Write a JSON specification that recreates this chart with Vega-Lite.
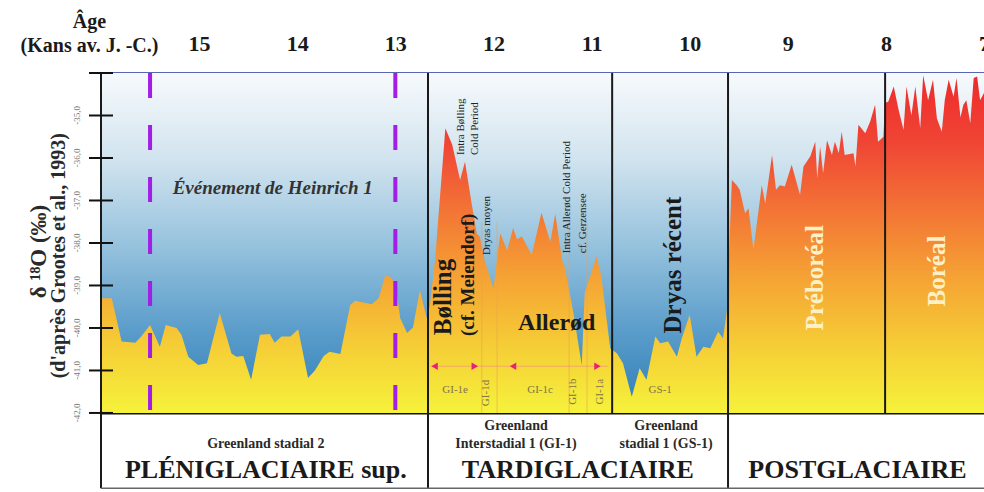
{
  "$schema": "https://vega.github.io/schema/vega-lite/v6.json",
  "width": 883,
  "height": 419,
  "autosize": "none",
  "padding": {"left": 101, "top": 73, "right": 0, "bottom": 0},
  "background": "white",
  "config": {"view": {"stroke": null}, "font": "Liberation Serif"},
  "resolve": {"axis": {"x": "independent"}},
  "datasets": {
    "curve": [
      {"age":16.0,"v":-39.3},{"age":15.89,"v":-39.3},{"age":15.79,"v":-40.32},{"age":15.65,"v":-40.35},{"age":15.59,"v":-40.2},{"age":15.5,"v":-39.93},{"age":15.4,"v":-40.44},{"age":15.34,"v":-39.93},{"age":15.23,"v":-40.0},{"age":15.18,"v":-40.16},{"age":15.11,"v":-40.68},{"age":15.01,"v":-40.87},{"age":14.92,"v":-40.83},{"age":14.79,"v":-39.65},{"age":14.67,"v":-40.6},{"age":14.62,"v":-40.68},{"age":14.55,"v":-40.66},{"age":14.47,"v":-41.22},{"age":14.38,"v":-40.16},{"age":14.28,"v":-40.14},{"age":14.23,"v":-40.35},{"age":14.16,"v":-40.2},{"age":14.07,"v":-40.2},{"age":13.99,"v":-40.03},{"age":13.89,"v":-41.18},{"age":13.82,"v":-41.0},{"age":13.73,"v":-40.66},{"age":13.67,"v":-40.56},{"age":13.56,"v":-40.61},{"age":13.46,"v":-39.46},{"age":13.41,"v":-39.36},{"age":13.24,"v":-39.44},{"age":13.17,"v":-39.3},{"age":13.1,"v":-38.74},{"age":13.04,"v":-38.83},{"age":13.0,"v":-38.93},{"age":12.95,"v":-39.77},{"age":12.88,"v":-40.12},{"age":12.82,"v":-39.99},{"age":12.75,"v":-39.1},{"age":12.68,"v":-39.77},{"age":12.65,"v":-39.5},{"age":12.595,"v":-38.4},{"age":12.49,"v":-35.3},{"age":12.42,"v":-35.69},{"age":12.34,"v":-36.52},{"age":12.29,"v":-36.09},{"age":12.22,"v":-37.1},{"age":12.17,"v":-37.78},{"age":12.14,"v":-37.85},{"age":12.09,"v":-38.4},{"age":12.0,"v":-39.07},{"age":11.93,"v":-37.77},{"age":11.86,"v":-38.18},{"age":11.8,"v":-37.65},{"age":11.76,"v":-37.91},{"age":11.71,"v":-37.85},{"age":11.61,"v":-38.28},{"age":11.51,"v":-37.29},{"age":11.42,"v":-37.97},{"age":11.37,"v":-37.32},{"age":11.3,"v":-38.4},{"age":11.27,"v":-38.6},{"age":11.185,"v":-39.65},{"age":11.1,"v":-40.87},{"age":11.07,"v":-39.18},{"age":10.95,"v":-38.32},{"age":10.9,"v":-38.79},{"age":10.81,"v":-40.48},{"age":10.74,"v":-40.6},{"age":10.68,"v":-40.83},{"age":10.59,"v":-41.62},{"age":10.51,"v":-40.95},{"age":10.44,"v":-41.22},{"age":10.35,"v":-40.2},{"age":10.3,"v":-40.36},{"age":10.22,"v":-40.32},{"age":10.13,"v":-40.68},{"age":10.08,"v":-40.24},{"age":10.0,"v":-39.69},{"age":9.93,"v":-40.68},{"age":9.86,"v":-40.44},{"age":9.79,"v":-40.48},{"age":9.71,"v":-40.09},{"age":9.66,"v":-40.24},{"age":9.62,"v":-39.58},{"age":9.57,"v":-36.52},{"age":9.52,"v":-36.64},{"age":9.49,"v":-36.75},{"age":9.435,"v":-37.3},{"age":9.4,"v":-37.18},{"age":9.35,"v":-38.16},{"age":9.265,"v":-36.64},{"age":9.23,"v":-37.07},{"age":9.16,"v":-35.93},{"age":9.12,"v":-36.75},{"age":9.08,"v":-36.64},{"age":9.03,"v":-36.67},{"age":8.96,"v":-36.16},{"age":8.875,"v":-36.87},{"age":8.84,"v":-36.2},{"age":8.77,"v":-35.96},{"age":8.72,"v":-35.62},{"age":8.7,"v":-36.48},{"age":8.67,"v":-35.73},{"age":8.64,"v":-36.36},{"age":8.6,"v":-35.58},{"age":8.55,"v":-35.93},{"age":8.52,"v":-35.62},{"age":8.48,"v":-35.89},{"age":8.45,"v":-35.38},{"age":8.42,"v":-35.93},{"age":8.33,"v":-35.89},{"age":8.31,"v":-36.2},{"age":8.28,"v":-35.22},{"age":8.21,"v":-35.42},{"age":8.16,"v":-35.14},{"age":8.11,"v":-34.75},{"age":8.08,"v":-35.62},{"age":8.025,"v":-35.5},{"age":8.01,"v":-34.71},{"age":7.975,"v":-34.67},{"age":7.92,"v":-34.32},{"age":7.87,"v":-34.87},{"age":7.82,"v":-35.34},{"age":7.79,"v":-34.32},{"age":7.74,"v":-35.0},{"age":7.7,"v":-34.32},{"age":7.65,"v":-35.3},{"age":7.62,"v":-34.05},{"age":7.57,"v":-34.64},{"age":7.52,"v":-34.16},{"age":7.48,"v":-35.07},{"age":7.43,"v":-35.38},{"age":7.4,"v":-34.64},{"age":7.36,"v":-34.16},{"age":7.31,"v":-34.56},{"age":7.28,"v":-34.12},{"age":7.24,"v":-35.05},{"age":7.21,"v":-34.75},{"age":7.18,"v":-34.64},{"age":7.14,"v":-35.18},{"age":7.105,"v":-34.12},{"age":7.07,"v":-34.08},{"age":7.04,"v":-34.64},{"age":7.0,"v":-34.47}
    ],
    "yticks": [
      {"v": -42, "label": "-42,0"}, {"v": -41, "label": "-41,0"}, {"v": -40, "label": "-40,0"}, {"v": -39, "label": "-39,0"},
      {"v": -38, "label": "-38,0"}, {"v": -37, "label": "-37,0"}, {"v": -36, "label": "-36,0"}, {"v": -35, "label": "-35,0"}, {"v": -34, "label": ""}
    ]
  },
  "layer": [
    {
      "data": {"values": [{}]},
      "mark": {"type": "rect", "fill": {"gradient": "linear", "x1": 0, "y1": 0, "x2": 0, "y2": 1, "stops": [{"offset": 0, "color": "#f7fafc"}, {"offset": 0.25, "color": "#d2e4ef"}, {"offset": 0.5, "color": "#98c3de"}, {"offset": 0.75, "color": "#5c9ecb"}, {"offset": 1, "color": "#2e7db6"}]}},
      "encoding": {
        "x": {"datum": 16, "type": "quantitative",
          "scale": {"domain": [7, 16], "reverse": true, "nice": false, "zero": false},
          "axis": {"orient": "top", "values": [16,15.5,15,14.5,14,13.5,13,12.5,12,11.5,11,10.5,10,9.5,9,8.5,8,7.5,7],
            "labelExpr": "datum.value % 1 == 0 && datum.value < 16 ? datum.value : ''",
            "labelFont": "Liberation Serif", "labelFontSize": 22, "labelFontWeight": "bold", "labelColor": "#1a1a1a",
            "labelPadding": 24, "labelFlush": false, "labelOverlap": false, "labelBound": false,
            "tickSize": -6, "tickColor": "#222", "tickWidth": 2,
            "domainColor": "#22309a", "domainWidth": 2.5, "grid": false,
            "title": ["Âge", "(Kans av. J. -C.)"], "titleFont": "Liberation Serif", "titleFontSize": 20, "titleFontWeight": "bold", "titleColor": "#1a1a1a",
            "titleX": -12, "titleY": -52, "titleAngle": 0, "titleAlign": "center", "titleBaseline": "middle", "titleLineHeight": 24}},
        "x2": {"datum": 7},
        "y": {"datum": -42, "type": "quantitative",
          "scale": {"domain": [-43.86, -34], "nice": false, "zero": false}, "axis": null},
        "y2": {"datum": -34}
      }
    },
    {
      "data": {"name": "curve"},
      "mark": {"type": "area", "interpolate": "linear", "fill": {"gradient": "linear", "x1": 0, "y1": 0, "x2": 0, "y2": 1, "stops": [{"offset": 0, "color": "#ee2a2c"}, {"offset": 0.2, "color": "#f04535"}, {"offset": 0.4, "color": "#f37435"}, {"offset": 0.6, "color": "#f5a334"}, {"offset": 0.8, "color": "#f5cd36"}, {"offset": 1, "color": "#f6f23b"}]}},
      "encoding": {
        "x": {"field": "age", "type": "quantitative",
          "scale": {"domain": [7, 16], "reverse": true, "nice": false, "zero": false},
          "axis": {"orient": "bottom", "offset": -79, "values": [16,15.5,15,14.5,14,13.5,13,12.5,12,11.5,11,10.5,10,9.5,9,8.5,8,7.5,7],
            "labels": false, "tickSize": -6, "tickColor": "#222", "tickWidth": 2, "domainColor": "#111", "domainWidth": 2, "grid": false, "title": null}},
        "y": {"field": "v", "type": "quantitative", "scale": {"domain": [-43.86, -34], "nice": false, "zero": false}, "axis": null},
        "y2": {"datum": -42}
      }
    },
    {
      "data": {"values": [{"age": 12.119}, {"age": 11.963}, {"age": 11.229}, {"age": 11.046}]},
      "mark": {"type": "rule", "color": "#e9a05a", "opacity": 0.6, "strokeWidth": 1},
      "encoding": {
        "x": {"field": "age", "type": "quantitative", "axis": null},
        "y": {"datum": -42, "type": "quantitative", "axis": null},
        "y2": {"datum": -37.5}
      }
    },
    {
      "data": {"values": [{"age": 16, "v": -43.77, "v2": -34}, {"age": 12.667, "v": -43.77, "v2": -34}, {"age": 10.79, "v": -42, "v2": -34}, {"age": 9.609, "v": -43.77, "v2": -34}, {"age": 8.008, "v": -42, "v2": -34}]},
      "mark": {"type": "rule", "color": "#1a1a1a", "strokeWidth": 2},
      "encoding": {
        "x": {"field": "age", "type": "quantitative", "axis": null},
        "y": {"field": "v", "type": "quantitative", "axis": null},
        "y2": {"field": "v2"}
      }
    },
    {
      "data": {"values": [{"age": 16, "age2": 7, "v": -43.77}]},
      "mark": {"type": "rule", "color": "#666", "strokeWidth": 1.5},
      "encoding": {
        "x": {"field": "age", "type": "quantitative", "axis": null},
        "x2": {"field": "age2"},
        "y": {"field": "v", "type": "quantitative", "axis": null}
      }
    },
    {
      "data": {"values": [{"age": 15.5}, {"age": 13.0}]},
      "mark": {"type": "rule", "color": "#a21ee6", "strokeWidth": 4, "strokeDash": [25, 27]},
      "encoding": {
        "x": {"field": "age", "type": "quantitative", "axis": null},
        "y": {"datum": -34, "type": "quantitative", "axis": null},
        "y2": {"datum": -42}
      }
    },
    {
      "data": {"values": [{}]},
      "mark": {"type": "rule", "color": "#f07aa0", "opacity": 0.5, "strokeWidth": 1},
      "encoding": {
        "x": {"datum": 12.64, "type": "quantitative", "axis": null},
        "x2": {"datum": 10.83},
        "y": {"datum": -40.9, "type": "quantitative", "axis": null}
      }
    },
    {
      "data": {"values": [{"age": 12.6, "dir": "left"}, {"age": 12.19, "dir": "right"}, {"age": 11.8, "dir": "left"}, {"age": 10.94, "dir": "right"}]},
      "mark": {"type": "point", "filled": true, "color": "#e8207a", "opacity": 1, "size": 55},
      "encoding": {
        "x": {"field": "age", "type": "quantitative", "axis": null},
        "y": {"datum": -40.9, "type": "quantitative", "axis": null},
        "shape": {"field": "dir", "type": "nominal", "scale": {"domain": ["left", "right"], "range": ["triangle-left", "triangle-right"]}, "legend": null}
      }
    },
    {
      "data": {"name": "yticks"},
      "mark": {"type": "tick", "orient": "horizontal", "color": "#111", "size": 24, "thickness": 2, "opacity": 1},
      "encoding": {
        "x": {"datum": 16, "type": "quantitative", "axis": null},
        "y": {"field": "v", "type": "quantitative", "axis": null}
      }
    },
    {
      "data": {"name": "yticks"},
      "mark": {"type": "text", "font": "Liberation Serif", "fontSize": 9, "color": "#777", "angle": 270, "align": "center", "baseline": "middle"},
      "encoding": {
        "x": {"datum": 16.245, "type": "quantitative", "axis": null},
        "y": {"field": "v", "type": "quantitative", "axis": null},
        "text": {"field": "label"}
      }
    },
    {
      "data": {"values": [{"label": "δ ¹⁸O (‰)", "age": 16.63, "v": -38.2}]},
      "mark": {"type": "text", "font": "Liberation Serif", "fontSize": 23, "fontWeight": "bold", "color": "#2a2a2a", "angle": 270, "align": "center", "baseline": "middle"},
      "encoding": {
        "x": {"field": "age", "type": "quantitative", "axis": null},
        "y": {"field": "v", "type": "quantitative", "axis": null},
        "text": {"field": "label"}
      }
    },
    {
      "data": {"values": [{"label": "(d'après Grootes et al., 1993)", "age": 16.43, "v": -38.3}]},
      "mark": {"type": "text", "font": "Liberation Serif", "fontSize": 20, "fontWeight": "bold", "color": "#2a2a2a", "angle": 270, "align": "center", "baseline": "middle"},
      "encoding": {
        "x": {"field": "age", "type": "quantitative", "axis": null},
        "y": {"field": "v", "type": "quantitative", "axis": null},
        "text": {"field": "label"}
      }
    },
    {
      "data": {"values": [{"label": "Événement de Heinrich 1", "age": 14.25, "v": -36.71}]},
      "mark": {"type": "text", "font": "Liberation Serif", "fontSize": 19, "fontWeight": "bold", "fontStyle": "italic", "color": "#333", "align": "center", "baseline": "middle"},
      "encoding": {
        "x": {"field": "age", "type": "quantitative", "axis": null},
        "y": {"field": "v", "type": "quantitative", "axis": null},
        "text": {"field": "label"}
      }
    },
    {
      "data": {"values": [
        {"label": "Intra Bølling", "age": 12.33, "v": -35.93},
        {"label": "Cold Period", "age": 12.19, "v": -35.93},
        {"label": "Dryas moyen", "age": 12.065, "v": -38.28},
        {"label": "Intra Allerød Cold Period", "age": 11.25, "v": -38.24},
        {"label": "cf. Gerzensee", "age": 11.09, "v": -38.24}
      ]},
      "mark": {"type": "text", "font": "Liberation Serif", "fontSize": 11, "color": "#222", "angle": 270, "align": "left", "baseline": "middle"},
      "encoding": {
        "x": {"field": "age", "type": "quantitative", "axis": null},
        "y": {"field": "v", "type": "quantitative", "axis": null},
        "text": {"field": "label"}
      }
    },
    {
      "data": {"values": [{"label": "Bølling", "age": 12.51, "v": -39.27}, {"label": "Dryas récent", "age": 10.166, "v": -38.52}]},
      "mark": {"type": "text", "font": "Liberation Serif", "fontSize": 25, "fontWeight": "bold", "color": "#1a1a1a", "angle": 270, "align": "center", "baseline": "middle"},
      "encoding": {
        "x": {"field": "age", "type": "quantitative", "axis": null},
        "y": {"field": "v", "type": "quantitative", "axis": null},
        "text": {"field": "label"}
      }
    },
    {
      "data": {"values": [{"label": "(cf. Meiendorf)", "age": 12.26, "v": -38.75}]},
      "mark": {"type": "text", "font": "Liberation Serif", "fontSize": 19, "fontWeight": "bold", "color": "#1a1a1a", "angle": 270, "align": "center", "baseline": "middle"},
      "encoding": {
        "x": {"field": "age", "type": "quantitative", "axis": null},
        "y": {"field": "v", "type": "quantitative", "axis": null},
        "text": {"field": "label"}
      }
    },
    {
      "data": {"values": [{"label": "Allerød", "age": 11.355, "v": -39.88}]},
      "mark": {"type": "text", "font": "Liberation Serif", "fontSize": 24, "fontWeight": "bold", "color": "#1a1a1a", "align": "center", "baseline": "middle"},
      "encoding": {
        "x": {"field": "age", "type": "quantitative", "axis": null},
        "y": {"field": "v", "type": "quantitative", "axis": null},
        "text": {"field": "label"}
      }
    },
    {
      "data": {"values": [{"label": "Préboréal", "age": 8.72, "v": -38.82}, {"label": "Boréal", "age": 7.48, "v": -38.66}]},
      "mark": {"type": "text", "font": "Liberation Serif", "fontSize": 25, "fontWeight": "bold", "color": "#fdf0c6", "angle": 270, "align": "center", "baseline": "middle"},
      "encoding": {
        "x": {"field": "age", "type": "quantitative", "axis": null},
        "y": {"field": "v", "type": "quantitative", "axis": null},
        "text": {"field": "label"}
      }
    },
    {
      "data": {"values": [{"label": "GI-1e", "age": 12.39, "v": -41.46}, {"label": "GI-1c", "age": 11.525, "v": -41.46}, {"label": "GS-1", "age": 10.3, "v": -41.46}]},
      "mark": {"type": "text", "font": "Liberation Serif", "fontSize": 11, "color": "#7d7448", "align": "center", "baseline": "middle"},
      "encoding": {
        "x": {"field": "age", "type": "quantitative", "axis": null},
        "y": {"field": "v", "type": "quantitative", "axis": null},
        "text": {"field": "label"}
      }
    },
    {
      "data": {"values": [{"label": "GI-1d", "age": 12.075, "v": -41.53}, {"label": "GI-1b", "age": 11.185, "v": -41.5}, {"label": "GI-1a", "age": 10.91, "v": -41.5}]},
      "mark": {"type": "text", "font": "Liberation Serif", "fontSize": 11, "color": "#7d7448", "angle": 270, "align": "center", "baseline": "middle"},
      "encoding": {
        "x": {"field": "age", "type": "quantitative", "axis": null},
        "y": {"field": "v", "type": "quantitative", "axis": null},
        "text": {"field": "label"}
      }
    },
    {
      "data": {"values": [
        {"label": "Greenland stadial 2", "age": 14.32, "v": -42.73},
        {"label": "Greenland", "age": 11.77, "v": -42.31},
        {"label": "Interstadial 1 (GI-1)", "age": 11.77, "v": -42.72},
        {"label": "Greenland", "age": 10.24, "v": -42.31},
        {"label": "stadial 1 (GS-1)", "age": 10.24, "v": -42.72}
      ]},
      "mark": {"type": "text", "font": "Liberation Serif", "fontSize": 14, "fontWeight": "bold", "color": "#2a2a2a", "align": "center", "baseline": "middle"},
      "encoding": {
        "x": {"field": "age", "type": "quantitative", "axis": null},
        "y": {"field": "v", "type": "quantitative", "axis": null},
        "text": {"field": "label"}
      }
    },
    {
      "data": {"values": [
        {"label": "PLÉNIGLACIAIRE sup.", "age": 14.32, "v": -43.34},
        {"label": "TARDIGLACIAIRE", "age": 11.14, "v": -43.34},
        {"label": "POSTGLACIAIRE", "age": 8.29, "v": -43.34}
      ]},
      "mark": {"type": "text", "font": "Liberation Serif", "fontSize": 26, "fontWeight": "bold", "color": "#1a1a1a", "align": "center", "baseline": "middle"},
      "encoding": {
        "x": {"field": "age", "type": "quantitative", "axis": null},
        "y": {"field": "v", "type": "quantitative", "axis": null},
        "text": {"field": "label"}
      }
    }
  ]
}
